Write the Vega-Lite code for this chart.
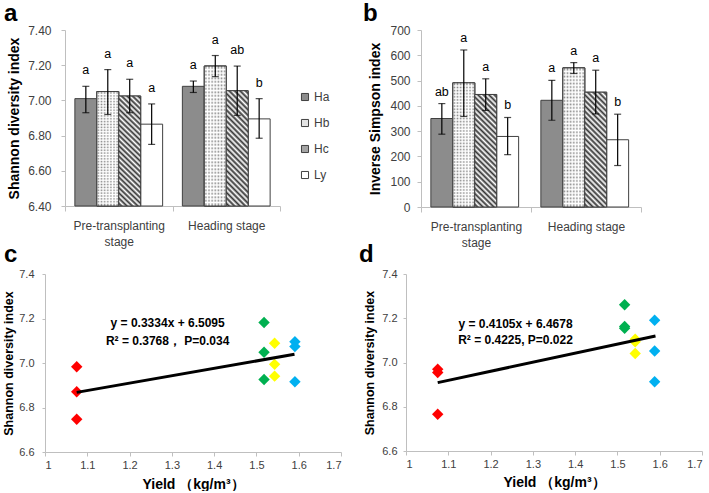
{
  "$schema": "https://vega.github.io/schema/vega-lite/v6.json",
  "background": "white",
  "padding": {"left": 2, "top": 2, "right": 0, "bottom": 0},
  "autosize": {"type": "pad"},
  "config": {
    "font": "Liberation Sans",
    "view": {"stroke": null},
    "axis": {"grid": false, "domainColor": "#bfbfbf", "tickColor": "#bfbfbf", "labelColor": "#404040", "titleColor": "#000000", "labelOverlap": false}
  },
  "datasets": {
    "barA": [
      {"stage": "Pre-transplanting stage", "group": "Ha", "value": 7.01, "lo": 6.93, "hi": 7.08, "sig": "a"},
      {"stage": "Pre-transplanting stage", "group": "Hb", "value": 7.05, "lo": 6.92, "hi": 7.175, "sig": "a"},
      {"stage": "Pre-transplanting stage", "group": "Hc", "value": 7.025, "lo": 6.93, "hi": 7.12, "sig": "a"},
      {"stage": "Pre-transplanting stage", "group": "Ly", "value": 6.865, "lo": 6.75, "hi": 6.98, "sig": "a"},
      {"stage": "Heading stage", "group": "Ha", "value": 7.08, "lo": 7.045, "hi": 7.11, "sig": "a"},
      {"stage": "Heading stage", "group": "Hb", "value": 7.195, "lo": 7.135, "hi": 7.255, "sig": "a"},
      {"stage": "Heading stage", "group": "Hc", "value": 7.055, "lo": 6.915, "hi": 7.195, "sig": "ab"},
      {"stage": "Heading stage", "group": "Ly", "value": 6.895, "lo": 6.785, "hi": 7.01, "sig": "b"}
    ],
    "barB": [
      {"stage": "Pre-transplanting stage", "group": "Ha", "value": 350, "lo": 288, "hi": 409, "sig": "ab"},
      {"stage": "Pre-transplanting stage", "group": "Hb", "value": 491, "lo": 358, "hi": 621, "sig": "a"},
      {"stage": "Pre-transplanting stage", "group": "Hc", "value": 445, "lo": 382, "hi": 507, "sig": "a"},
      {"stage": "Pre-transplanting stage", "group": "Ly", "value": 279, "lo": 207, "hi": 354, "sig": "b"},
      {"stage": "Heading stage", "group": "Ha", "value": 422, "lo": 343, "hi": 501, "sig": "a"},
      {"stage": "Heading stage", "group": "Hb", "value": 550, "lo": 528, "hi": 571, "sig": "a"},
      {"stage": "Heading stage", "group": "Hc", "value": 454, "lo": 368, "hi": 541, "sig": "a"},
      {"stage": "Heading stage", "group": "Ly", "value": 266, "lo": 164, "hi": 367, "sig": "b"}
    ],
    "scatC": [
      {"group": "Ly", "yield": 1.075, "shannon": 6.983},
      {"group": "Ly", "yield": 1.075, "shannon": 6.871},
      {"group": "Ly", "yield": 1.075, "shannon": 6.747},
      {"group": "Hb", "yield": 1.518, "shannon": 7.182},
      {"group": "Hb", "yield": 1.518, "shannon": 7.048},
      {"group": "Hb", "yield": 1.518, "shannon": 6.926},
      {"group": "Ha", "yield": 1.543, "shannon": 7.089},
      {"group": "Ha", "yield": 1.543, "shannon": 6.994},
      {"group": "Ha", "yield": 1.543, "shannon": 6.941},
      {"group": "Hc", "yield": 1.591, "shannon": 7.096},
      {"group": "Hc", "yield": 1.591, "shannon": 7.074},
      {"group": "Hc", "yield": 1.591, "shannon": 6.916}
    ],
    "scatD": [
      {"group": "Ly", "yield": 1.075, "shannon": 6.970},
      {"group": "Ly", "yield": 1.075, "shannon": 6.955},
      {"group": "Ly", "yield": 1.075, "shannon": 6.766},
      {"group": "Hb", "yield": 1.517, "shannon": 7.261},
      {"group": "Hb", "yield": 1.517, "shannon": 7.163},
      {"group": "Hb", "yield": 1.517, "shannon": 7.155},
      {"group": "Ha", "yield": 1.542, "shannon": 7.105},
      {"group": "Ha", "yield": 1.542, "shannon": 7.094},
      {"group": "Ha", "yield": 1.542, "shannon": 7.041},
      {"group": "Hc", "yield": 1.588, "shannon": 7.191},
      {"group": "Hc", "yield": 1.588, "shannon": 7.052},
      {"group": "Hc", "yield": 1.588, "shannon": 6.913}
    ],
    "lineC": [{"yield": 1.075, "shannon": 6.868}, {"yield": 1.59, "shannon": 7.039}],
    "lineD": [{"yield": 1.075, "shannon": 6.909}, {"yield": 1.59, "shannon": 7.120}],
    "textC": [
      {"yield": 1.29, "shannon": 7.18, "label": "y = 0.3334x + 6.5095"},
      {"yield": 1.29, "shannon": 7.099, "label": "R² = 0.3768，  P=0.034"}
    ],
    "textD": [
      {"yield": 1.259, "shannon": 7.174, "label": "y = 0.4105x + 6.4678"},
      {"yield": 1.259, "shannon": 7.102, "label": "R² = 0.4225, P=0.022"}
    ]
  },
  "columns": 1,
  "align": "none",
  "spacing": {"row": -5, "column": 0},
  "concat": [
    {
      "spacing": 82,
      "hconcat": [
        {
          "width": 215,
          "height": 176,
          "title": {"text": "a", "anchor": "start", "frame": "group", "dx": -61, "fontSize": 24, "fontWeight": "bold", "color": "#000000", "offset": -2},
          "data": {"name": "barA"},
          "encoding": {
            "x": {"field": "stage", "type": "nominal", "scale": {"domain": ["Pre-transplanting stage", "Heading stage"], "paddingInner": 0, "paddingOuter": 0},
              "axis": {"title": null, "labelAngle": 0, "tickBand": "extent", "tickSize": 5, "labelPadding": 9, "labelFontSize": 12, "labelLineHeight": 16, "labelExpr": "datum.label == 'Pre-transplanting stage' ? ['Pre-transplanting', 'stage'] : datum.label"}},
            "xOffset": {"field": "group", "type": "nominal", "scale": {"domain": ["Ha", "Hb", "Hc", "Ly"], "paddingInner": 0, "paddingOuter": 0.45}}
          },
          "layer": [
            {
              "mark": {"type": "bar", "stroke": "#404040", "strokeWidth": 1},
              "encoding": {
                "y": {"field": "value", "type": "quantitative", "scale": {"domain": [6.4, 7.4], "zero": false, "nice": false},
                  "axis": {"title": "Shannon diversity index", "titleFontSize": 14, "titleFontWeight": "bold", "values": [6.4, 6.6, 6.8, 7.0, 7.2, 7.4], "tickCount": 6, "format": ".2f", "labelFontSize": 12, "labelOverlap": false, "labelSeparation": 0, "tickSize": 4, "labelPadding": 10, "titlePadding": 6}},
                "y2": {"datum": 6.4},
                "fill": {"field": "group", "type": "nominal", "scale": {"domain": ["Ha", "Hb", "Hc", "Ly"], "range": ["#8c8c8c", "#e4e4e4", "#a4a4a4", "#ffffff"]},
                  "legend": {"title": null, "orient": "none", "legendX": 234, "legendY": 61, "symbolType": "square", "symbolSize": 50, "symbolStrokeColor": "#404040", "symbolStrokeWidth": 1, "labelFontSize": 12, "labelColor": "#404040", "rowPadding": 14, "padding": 0, "labelOffset": 3}}
              }
            },
            {
              "transform": [{"filter": "datum.group === 'Hb'"}],
              "mark": {"type": "bar", "stroke": "#404040", "strokeWidth": 1, "fill": {"gradient": "linear", "x1": 0, "y1": 0, "x2": 0, "y2": 1, "stops": [{"offset":0,"color":"#fff"},{"offset":0.0125,"color":"#888"},{"offset":0.025,"color":"#fff"},{"offset":0.0375,"color":"#888"},{"offset":0.05,"color":"#fff"},{"offset":0.0625,"color":"#888"},{"offset":0.075,"color":"#fff"},{"offset":0.0875,"color":"#888"},{"offset":0.1,"color":"#fff"},{"offset":0.1125,"color":"#888"},{"offset":0.125,"color":"#fff"},{"offset":0.1375,"color":"#888"},{"offset":0.15,"color":"#fff"},{"offset":0.1625,"color":"#888"},{"offset":0.175,"color":"#fff"},{"offset":0.1875,"color":"#888"},{"offset":0.2,"color":"#fff"},{"offset":0.2125,"color":"#888"},{"offset":0.225,"color":"#fff"},{"offset":0.2375,"color":"#888"},{"offset":0.25,"color":"#fff"},{"offset":0.2625,"color":"#888"},{"offset":0.275,"color":"#fff"},{"offset":0.2875,"color":"#888"},{"offset":0.3,"color":"#fff"},{"offset":0.3125,"color":"#888"},{"offset":0.325,"color":"#fff"},{"offset":0.3375,"color":"#888"},{"offset":0.35,"color":"#fff"},{"offset":0.3625,"color":"#888"},{"offset":0.375,"color":"#fff"},{"offset":0.3875,"color":"#888"},{"offset":0.4,"color":"#fff"},{"offset":0.4125,"color":"#888"},{"offset":0.425,"color":"#fff"},{"offset":0.4375,"color":"#888"},{"offset":0.45,"color":"#fff"},{"offset":0.4625,"color":"#888"},{"offset":0.475,"color":"#fff"},{"offset":0.4875,"color":"#888"},{"offset":0.5,"color":"#fff"},{"offset":0.5125,"color":"#888"},{"offset":0.525,"color":"#fff"},{"offset":0.5375,"color":"#888"},{"offset":0.55,"color":"#fff"},{"offset":0.5625,"color":"#888"},{"offset":0.575,"color":"#fff"},{"offset":0.5875,"color":"#888"},{"offset":0.6,"color":"#fff"},{"offset":0.6125,"color":"#888"},{"offset":0.625,"color":"#fff"},{"offset":0.6375,"color":"#888"},{"offset":0.65,"color":"#fff"},{"offset":0.6625,"color":"#888"},{"offset":0.675,"color":"#fff"},{"offset":0.6875,"color":"#888"},{"offset":0.7,"color":"#fff"},{"offset":0.7125,"color":"#888"},{"offset":0.725,"color":"#fff"},{"offset":0.7375,"color":"#888"},{"offset":0.75,"color":"#fff"},{"offset":0.7625,"color":"#888"},{"offset":0.775,"color":"#fff"},{"offset":0.7875,"color":"#888"},{"offset":0.8,"color":"#fff"},{"offset":0.8125,"color":"#888"},{"offset":0.825,"color":"#fff"},{"offset":0.8375,"color":"#888"},{"offset":0.85,"color":"#fff"},{"offset":0.8625,"color":"#888"},{"offset":0.875,"color":"#fff"},{"offset":0.8875,"color":"#888"},{"offset":0.9,"color":"#fff"},{"offset":0.9125,"color":"#888"},{"offset":0.925,"color":"#fff"},{"offset":0.9375,"color":"#888"},{"offset":0.95,"color":"#fff"},{"offset":0.9625,"color":"#888"},{"offset":0.975,"color":"#fff"},{"offset":0.9875,"color":"#888"},{"offset":1,"color":"#fff"}]}},
              "encoding": {"y": {"field": "value", "type": "quantitative", "axis": {"title": "Shannon diversity index", "titleFontSize": 14, "titleFontWeight": "bold", "values": [6.4, 6.6, 6.8, 7.0, 7.2, 7.4], "tickCount": 6, "format": ".2f", "labelFontSize": 12, "labelOverlap": false, "labelSeparation": 0, "tickSize": 4, "labelPadding": 10, "titlePadding": 6}}, "y2": {"datum": 6.4}}
            },
            {
              "transform": [{"filter": "datum.group === 'Hb'"}],
              "mark": {"type": "bar", "stroke": "#404040", "strokeWidth": 1, "fill": {"gradient": "linear", "x1": 0, "y1": 0, "x2": 1, "y2": 0, "stops": [{"offset":0,"color":"rgba(255,255,255,1)"},{"offset":0.0714,"color":"rgba(255,255,255,0)"},{"offset":0.1429,"color":"rgba(255,255,255,1)"},{"offset":0.2143,"color":"rgba(255,255,255,0)"},{"offset":0.2857,"color":"rgba(255,255,255,1)"},{"offset":0.3571,"color":"rgba(255,255,255,0)"},{"offset":0.4286,"color":"rgba(255,255,255,1)"},{"offset":0.5,"color":"rgba(255,255,255,0)"},{"offset":0.5714,"color":"rgba(255,255,255,1)"},{"offset":0.6429,"color":"rgba(255,255,255,0)"},{"offset":0.7143,"color":"rgba(255,255,255,1)"},{"offset":0.7857,"color":"rgba(255,255,255,0)"},{"offset":0.8571,"color":"rgba(255,255,255,1)"},{"offset":0.9286,"color":"rgba(255,255,255,0)"},{"offset":1,"color":"rgba(255,255,255,1)"}]}},
              "encoding": {"y": {"field": "value", "type": "quantitative", "axis": {"title": "Shannon diversity index", "titleFontSize": 14, "titleFontWeight": "bold", "values": [6.4, 6.6, 6.8, 7.0, 7.2, 7.4], "tickCount": 6, "format": ".2f", "labelFontSize": 12, "labelOverlap": false, "labelSeparation": 0, "tickSize": 4, "labelPadding": 10, "titlePadding": 6}}, "y2": {"datum": 6.4}}
            },
            {
              "transform": [{"filter": "datum.group === 'Hc'"}],
              "mark": {"type": "bar", "stroke": "#404040", "strokeWidth": 1, "fill": {"gradient": "linear", "x1": 0, "y1": 1, "x2": 0.2207, "y2": -0.1496, "stops": [{"offset":0,"color":"#fff"},{"offset":0.02,"color":"#333"},{"offset":0.04,"color":"#fff"},{"offset":0.06,"color":"#333"},{"offset":0.08,"color":"#fff"},{"offset":0.1,"color":"#333"},{"offset":0.12,"color":"#fff"},{"offset":0.14,"color":"#333"},{"offset":0.16,"color":"#fff"},{"offset":0.18,"color":"#333"},{"offset":0.2,"color":"#fff"},{"offset":0.22,"color":"#333"},{"offset":0.24,"color":"#fff"},{"offset":0.26,"color":"#333"},{"offset":0.28,"color":"#fff"},{"offset":0.3,"color":"#333"},{"offset":0.32,"color":"#fff"},{"offset":0.34,"color":"#333"},{"offset":0.36,"color":"#fff"},{"offset":0.38,"color":"#333"},{"offset":0.4,"color":"#fff"},{"offset":0.42,"color":"#333"},{"offset":0.44,"color":"#fff"},{"offset":0.46,"color":"#333"},{"offset":0.48,"color":"#fff"},{"offset":0.5,"color":"#333"},{"offset":0.52,"color":"#fff"},{"offset":0.54,"color":"#333"},{"offset":0.56,"color":"#fff"},{"offset":0.58,"color":"#333"},{"offset":0.6,"color":"#fff"},{"offset":0.62,"color":"#333"},{"offset":0.64,"color":"#fff"},{"offset":0.66,"color":"#333"},{"offset":0.68,"color":"#fff"},{"offset":0.7,"color":"#333"},{"offset":0.72,"color":"#fff"},{"offset":0.74,"color":"#333"},{"offset":0.76,"color":"#fff"},{"offset":0.78,"color":"#333"},{"offset":0.8,"color":"#fff"},{"offset":0.82,"color":"#333"},{"offset":0.84,"color":"#fff"},{"offset":0.86,"color":"#333"},{"offset":0.88,"color":"#fff"},{"offset":0.9,"color":"#333"},{"offset":0.92,"color":"#fff"},{"offset":0.94,"color":"#333"},{"offset":0.96,"color":"#fff"},{"offset":0.98,"color":"#333"},{"offset":1,"color":"#fff"}]}},
              "encoding": {"y": {"field": "value", "type": "quantitative", "axis": {"title": "Shannon diversity index", "titleFontSize": 14, "titleFontWeight": "bold", "values": [6.4, 6.6, 6.8, 7.0, 7.2, 7.4], "tickCount": 6, "format": ".2f", "labelFontSize": 12, "labelOverlap": false, "labelSeparation": 0, "tickSize": 4, "labelPadding": 10, "titlePadding": 6}}, "y2": {"datum": 6.4}}
            },
            {
              "mark": {"type": "rule", "color": "#000000", "strokeWidth": 1.2},
              "encoding": {"y": {"field": "lo", "type": "quantitative", "axis": {"title": "Shannon diversity index", "titleFontSize": 14, "titleFontWeight": "bold", "values": [6.4, 6.6, 6.8, 7.0, 7.2, 7.4], "tickCount": 6, "format": ".2f", "labelFontSize": 12, "labelOverlap": false, "labelSeparation": 0, "tickSize": 4, "labelPadding": 10, "titlePadding": 6}}, "y2": {"field": "hi"}}
            },
            {
              "mark": {"type": "tick", "color": "#000000", "thickness": 1.2, "size": 7},
              "encoding": {"y": {"field": "lo", "type": "quantitative", "axis": {"title": "Shannon diversity index", "titleFontSize": 14, "titleFontWeight": "bold", "values": [6.4, 6.6, 6.8, 7.0, 7.2, 7.4], "tickCount": 6, "format": ".2f", "labelFontSize": 12, "labelOverlap": false, "labelSeparation": 0, "tickSize": 4, "labelPadding": 10, "titlePadding": 6}}}
            },
            {
              "mark": {"type": "tick", "color": "#000000", "thickness": 1.2, "size": 7},
              "encoding": {"y": {"field": "hi", "type": "quantitative", "axis": {"title": "Shannon diversity index", "titleFontSize": 14, "titleFontWeight": "bold", "values": [6.4, 6.6, 6.8, 7.0, 7.2, 7.4], "tickCount": 6, "format": ".2f", "labelFontSize": 12, "labelOverlap": false, "labelSeparation": 0, "tickSize": 4, "labelPadding": 10, "titlePadding": 6}}}
            },
            {
              "mark": {"type": "text", "baseline": "alphabetic", "dy": -12, "fontSize": 12.5, "color": "#000000"},
              "encoding": {"y": {"field": "hi", "type": "quantitative", "axis": {"title": "Shannon diversity index", "titleFontSize": 14, "titleFontWeight": "bold", "values": [6.4, 6.6, 6.8, 7.0, 7.2, 7.4], "tickCount": 6, "format": ".2f", "labelFontSize": 12, "labelOverlap": false, "labelSeparation": 0, "tickSize": 4, "labelPadding": 10, "titlePadding": 6}}, "text": {"field": "sig"}}
            }
          ]
        },
        {
          "width": 220,
          "height": 177,
          "title": {"text": "b", "anchor": "start", "frame": "group", "dx": -58, "fontSize": 24, "fontWeight": "bold", "color": "#000000", "offset": -2},
          "data": {"name": "barB"},
          "encoding": {
            "x": {"field": "stage", "type": "nominal", "scale": {"domain": ["Pre-transplanting stage", "Heading stage"], "paddingInner": 0, "paddingOuter": 0},
              "axis": {"title": null, "labelAngle": 0, "tickBand": "extent", "tickSize": 5, "labelPadding": 9, "labelFontSize": 12, "labelLineHeight": 16, "labelExpr": "datum.label == 'Pre-transplanting stage' ? ['Pre-transplanting', 'stage'] : datum.label"}},
            "xOffset": {"field": "group", "type": "nominal", "scale": {"domain": ["Ha", "Hb", "Hc", "Ly"], "paddingInner": 0, "paddingOuter": 0.5}}
          },
          "layer": [
            {
              "mark": {"type": "bar", "stroke": "#404040", "strokeWidth": 1},
              "encoding": {
                "y": {"field": "value", "type": "quantitative", "scale": {"domain": [0, 700], "nice": false},
                  "axis": {"title": "Inverse Simpson index", "titleFontSize": 14, "titleFontWeight": "bold", "values": [0, 100, 200, 300, 400, 500, 600, 700], "tickCount": 8, "format": "d", "labelFontSize": 12, "labelOverlap": false, "labelSeparation": 0, "tickSize": 4, "labelPadding": 7, "titlePadding": 7}},
                "y2": {"datum": 0},
                "fill": {"field": "group", "type": "nominal", "scale": {"domain": ["Ha", "Hb", "Hc", "Ly"], "range": ["#8c8c8c", "#e4e4e4", "#a4a4a4", "#ffffff"]},
                  "legend": {"title": null, "orient": "none", "legendX": 241, "legendY": 62, "symbolType": "square", "symbolSize": 50, "symbolStrokeColor": "#404040", "symbolStrokeWidth": 1, "labelFontSize": 12, "labelColor": "#404040", "rowPadding": 14, "padding": 0, "labelOffset": 3}}
              }
            },
            {
              "transform": [{"filter": "datum.group === 'Hb'"}],
              "mark": {"type": "bar", "stroke": "#404040", "strokeWidth": 1, "fill": {"gradient": "linear", "x1": 0, "y1": 0, "x2": 0, "y2": 1, "stops": [{"offset":0,"color":"#fff"},{"offset":0.0125,"color":"#888"},{"offset":0.025,"color":"#fff"},{"offset":0.0375,"color":"#888"},{"offset":0.05,"color":"#fff"},{"offset":0.0625,"color":"#888"},{"offset":0.075,"color":"#fff"},{"offset":0.0875,"color":"#888"},{"offset":0.1,"color":"#fff"},{"offset":0.1125,"color":"#888"},{"offset":0.125,"color":"#fff"},{"offset":0.1375,"color":"#888"},{"offset":0.15,"color":"#fff"},{"offset":0.1625,"color":"#888"},{"offset":0.175,"color":"#fff"},{"offset":0.1875,"color":"#888"},{"offset":0.2,"color":"#fff"},{"offset":0.2125,"color":"#888"},{"offset":0.225,"color":"#fff"},{"offset":0.2375,"color":"#888"},{"offset":0.25,"color":"#fff"},{"offset":0.2625,"color":"#888"},{"offset":0.275,"color":"#fff"},{"offset":0.2875,"color":"#888"},{"offset":0.3,"color":"#fff"},{"offset":0.3125,"color":"#888"},{"offset":0.325,"color":"#fff"},{"offset":0.3375,"color":"#888"},{"offset":0.35,"color":"#fff"},{"offset":0.3625,"color":"#888"},{"offset":0.375,"color":"#fff"},{"offset":0.3875,"color":"#888"},{"offset":0.4,"color":"#fff"},{"offset":0.4125,"color":"#888"},{"offset":0.425,"color":"#fff"},{"offset":0.4375,"color":"#888"},{"offset":0.45,"color":"#fff"},{"offset":0.4625,"color":"#888"},{"offset":0.475,"color":"#fff"},{"offset":0.4875,"color":"#888"},{"offset":0.5,"color":"#fff"},{"offset":0.5125,"color":"#888"},{"offset":0.525,"color":"#fff"},{"offset":0.5375,"color":"#888"},{"offset":0.55,"color":"#fff"},{"offset":0.5625,"color":"#888"},{"offset":0.575,"color":"#fff"},{"offset":0.5875,"color":"#888"},{"offset":0.6,"color":"#fff"},{"offset":0.6125,"color":"#888"},{"offset":0.625,"color":"#fff"},{"offset":0.6375,"color":"#888"},{"offset":0.65,"color":"#fff"},{"offset":0.6625,"color":"#888"},{"offset":0.675,"color":"#fff"},{"offset":0.6875,"color":"#888"},{"offset":0.7,"color":"#fff"},{"offset":0.7125,"color":"#888"},{"offset":0.725,"color":"#fff"},{"offset":0.7375,"color":"#888"},{"offset":0.75,"color":"#fff"},{"offset":0.7625,"color":"#888"},{"offset":0.775,"color":"#fff"},{"offset":0.7875,"color":"#888"},{"offset":0.8,"color":"#fff"},{"offset":0.8125,"color":"#888"},{"offset":0.825,"color":"#fff"},{"offset":0.8375,"color":"#888"},{"offset":0.85,"color":"#fff"},{"offset":0.8625,"color":"#888"},{"offset":0.875,"color":"#fff"},{"offset":0.8875,"color":"#888"},{"offset":0.9,"color":"#fff"},{"offset":0.9125,"color":"#888"},{"offset":0.925,"color":"#fff"},{"offset":0.9375,"color":"#888"},{"offset":0.95,"color":"#fff"},{"offset":0.9625,"color":"#888"},{"offset":0.975,"color":"#fff"},{"offset":0.9875,"color":"#888"},{"offset":1,"color":"#fff"}]}},
              "encoding": {"y": {"field": "value", "type": "quantitative", "axis": {"title": "Inverse Simpson index", "titleFontSize": 14, "titleFontWeight": "bold", "values": [0, 100, 200, 300, 400, 500, 600, 700], "tickCount": 8, "format": "d", "labelFontSize": 12, "labelOverlap": false, "labelSeparation": 0, "tickSize": 4, "labelPadding": 7, "titlePadding": 7}}, "y2": {"datum": 0}}
            },
            {
              "transform": [{"filter": "datum.group === 'Hb'"}],
              "mark": {"type": "bar", "stroke": "#404040", "strokeWidth": 1, "fill": {"gradient": "linear", "x1": 0, "y1": 0, "x2": 1, "y2": 0, "stops": [{"offset":0,"color":"rgba(255,255,255,1)"},{"offset":0.0714,"color":"rgba(255,255,255,0)"},{"offset":0.1429,"color":"rgba(255,255,255,1)"},{"offset":0.2143,"color":"rgba(255,255,255,0)"},{"offset":0.2857,"color":"rgba(255,255,255,1)"},{"offset":0.3571,"color":"rgba(255,255,255,0)"},{"offset":0.4286,"color":"rgba(255,255,255,1)"},{"offset":0.5,"color":"rgba(255,255,255,0)"},{"offset":0.5714,"color":"rgba(255,255,255,1)"},{"offset":0.6429,"color":"rgba(255,255,255,0)"},{"offset":0.7143,"color":"rgba(255,255,255,1)"},{"offset":0.7857,"color":"rgba(255,255,255,0)"},{"offset":0.8571,"color":"rgba(255,255,255,1)"},{"offset":0.9286,"color":"rgba(255,255,255,0)"},{"offset":1,"color":"rgba(255,255,255,1)"}]}},
              "encoding": {"y": {"field": "value", "type": "quantitative", "axis": {"title": "Inverse Simpson index", "titleFontSize": 14, "titleFontWeight": "bold", "values": [0, 100, 200, 300, 400, 500, 600, 700], "tickCount": 8, "format": "d", "labelFontSize": 12, "labelOverlap": false, "labelSeparation": 0, "tickSize": 4, "labelPadding": 7, "titlePadding": 7}}, "y2": {"datum": 0}}
            },
            {
              "transform": [{"filter": "datum.group === 'Hc'"}],
              "mark": {"type": "bar", "stroke": "#404040", "strokeWidth": 1, "fill": {"gradient": "linear", "x1": 0, "y1": 1, "x2": 0.2207, "y2": -0.1496, "stops": [{"offset":0,"color":"#fff"},{"offset":0.02,"color":"#333"},{"offset":0.04,"color":"#fff"},{"offset":0.06,"color":"#333"},{"offset":0.08,"color":"#fff"},{"offset":0.1,"color":"#333"},{"offset":0.12,"color":"#fff"},{"offset":0.14,"color":"#333"},{"offset":0.16,"color":"#fff"},{"offset":0.18,"color":"#333"},{"offset":0.2,"color":"#fff"},{"offset":0.22,"color":"#333"},{"offset":0.24,"color":"#fff"},{"offset":0.26,"color":"#333"},{"offset":0.28,"color":"#fff"},{"offset":0.3,"color":"#333"},{"offset":0.32,"color":"#fff"},{"offset":0.34,"color":"#333"},{"offset":0.36,"color":"#fff"},{"offset":0.38,"color":"#333"},{"offset":0.4,"color":"#fff"},{"offset":0.42,"color":"#333"},{"offset":0.44,"color":"#fff"},{"offset":0.46,"color":"#333"},{"offset":0.48,"color":"#fff"},{"offset":0.5,"color":"#333"},{"offset":0.52,"color":"#fff"},{"offset":0.54,"color":"#333"},{"offset":0.56,"color":"#fff"},{"offset":0.58,"color":"#333"},{"offset":0.6,"color":"#fff"},{"offset":0.62,"color":"#333"},{"offset":0.64,"color":"#fff"},{"offset":0.66,"color":"#333"},{"offset":0.68,"color":"#fff"},{"offset":0.7,"color":"#333"},{"offset":0.72,"color":"#fff"},{"offset":0.74,"color":"#333"},{"offset":0.76,"color":"#fff"},{"offset":0.78,"color":"#333"},{"offset":0.8,"color":"#fff"},{"offset":0.82,"color":"#333"},{"offset":0.84,"color":"#fff"},{"offset":0.86,"color":"#333"},{"offset":0.88,"color":"#fff"},{"offset":0.9,"color":"#333"},{"offset":0.92,"color":"#fff"},{"offset":0.94,"color":"#333"},{"offset":0.96,"color":"#fff"},{"offset":0.98,"color":"#333"},{"offset":1,"color":"#fff"}]}},
              "encoding": {"y": {"field": "value", "type": "quantitative", "axis": {"title": "Inverse Simpson index", "titleFontSize": 14, "titleFontWeight": "bold", "values": [0, 100, 200, 300, 400, 500, 600, 700], "tickCount": 8, "format": "d", "labelFontSize": 12, "labelOverlap": false, "labelSeparation": 0, "tickSize": 4, "labelPadding": 7, "titlePadding": 7}}, "y2": {"datum": 0}}
            },
            {
              "mark": {"type": "rule", "color": "#000000", "strokeWidth": 1.2},
              "encoding": {"y": {"field": "lo", "type": "quantitative", "axis": {"title": "Inverse Simpson index", "titleFontSize": 14, "titleFontWeight": "bold", "values": [0, 100, 200, 300, 400, 500, 600, 700], "tickCount": 8, "format": "d", "labelFontSize": 12, "labelOverlap": false, "labelSeparation": 0, "tickSize": 4, "labelPadding": 7, "titlePadding": 7}}, "y2": {"field": "hi"}}
            },
            {
              "mark": {"type": "tick", "color": "#000000", "thickness": 1.2, "size": 7},
              "encoding": {"y": {"field": "lo", "type": "quantitative", "axis": {"title": "Inverse Simpson index", "titleFontSize": 14, "titleFontWeight": "bold", "values": [0, 100, 200, 300, 400, 500, 600, 700], "tickCount": 8, "format": "d", "labelFontSize": 12, "labelOverlap": false, "labelSeparation": 0, "tickSize": 4, "labelPadding": 7, "titlePadding": 7}}}
            },
            {
              "mark": {"type": "tick", "color": "#000000", "thickness": 1.2, "size": 7},
              "encoding": {"y": {"field": "hi", "type": "quantitative", "axis": {"title": "Inverse Simpson index", "titleFontSize": 14, "titleFontWeight": "bold", "values": [0, 100, 200, 300, 400, 500, 600, 700], "tickCount": 8, "format": "d", "labelFontSize": 12, "labelOverlap": false, "labelSeparation": 0, "tickSize": 4, "labelPadding": 7, "titlePadding": 7}}}
            },
            {
              "mark": {"type": "text", "baseline": "alphabetic", "dy": -8, "fontSize": 12.5, "color": "#000000"},
              "encoding": {"y": {"field": "hi", "type": "quantitative", "axis": {"title": "Inverse Simpson index", "titleFontSize": 14, "titleFontWeight": "bold", "values": [0, 100, 200, 300, 400, 500, 600, 700], "tickCount": 8, "format": "d", "labelFontSize": 12, "labelOverlap": false, "labelSeparation": 0, "tickSize": 4, "labelPadding": 7, "titlePadding": 7}}, "text": {"field": "sig"}}
            }
          ]
        }
      ]
    },
    {
      "spacing": -2,
      "hconcat": [
        {
          "width": 276,
          "height": 178,
          "title": {"text": "c", "anchor": "start", "frame": "group", "dx": -61, "fontSize": 24, "fontWeight": "bold", "color": "#000000", "offset": 1},
          "layer": [
            {
              "data": {"name": "scatC"},
              "mark": {"type": "point", "shape": "diamond", "filled": true, "size": 130, "opacity": 1},
              "encoding": {
                "x": {"field": "yield", "type": "quantitative", "scale": {"domain": [1, 1.7], "range": [-20, 276], "nice": false, "zero": false},
                  "axis": {"title": "Yield （kg/m³）", "titleFontSize": 14, "titleFontWeight": "bold", "values": [1, 1.1, 1.2, 1.3, 1.4, 1.5, 1.6, 1.7], "labelExpr": "format(datum.value, '~g')", "labelFontSize": 11, "labelOverlap": false, "tickSize": 4, "labelPadding": 3, "titlePadding": 7}},
                "y": {"field": "shannon", "type": "quantitative", "scale": {"domain": [6.6, 7.4], "nice": false, "zero": false},
                  "axis": {"offset": 20, "title": "Shannon diversity index", "titleFontSize": 12.5, "titleFontWeight": "bold", "values": [6.6, 6.8, 7.0, 7.2, 7.4], "format": ".1f", "labelFontSize": 11, "labelOverlap": false, "tickSize": 3, "labelPadding": 8, "titlePadding": 3}},
                "color": {"field": "group", "type": "nominal", "scale": {"domain": ["Ha", "Hb", "Hc", "Ly"], "range": ["#ffff00", "#00b050", "#00b0f0", "#ff0000"]}, "legend": null}
              }
            },
            {
              "data": {"name": "lineC"},
              "mark": {"type": "line", "color": "#000000", "strokeWidth": 3},
              "encoding": {
                "x": {"field": "yield", "type": "quantitative", "axis": {"title": "Yield （kg/m³）", "titleFontSize": 14, "titleFontWeight": "bold", "values": [1, 1.1, 1.2, 1.3, 1.4, 1.5, 1.6, 1.7], "labelExpr": "format(datum.value, '~g')", "labelFontSize": 11, "labelOverlap": false, "tickSize": 4, "labelPadding": 3, "titlePadding": 7}},
                "y": {"field": "shannon", "type": "quantitative", "axis": {"offset": 20, "title": "Shannon diversity index", "titleFontSize": 12.5, "titleFontWeight": "bold", "values": [6.6, 6.8, 7.0, 7.2, 7.4], "format": ".1f", "labelFontSize": 11, "labelOverlap": false, "tickSize": 3, "labelPadding": 8, "titlePadding": 3}}
              }
            },
            {
              "data": {"name": "textC"},
              "mark": {"type": "text", "fontSize": 12, "fontWeight": "bold", "align": "center", "baseline": "middle", "color": "#000000"},
              "encoding": {
                "x": {"field": "yield", "type": "quantitative", "axis": {"title": "Yield （kg/m³）", "titleFontSize": 14, "titleFontWeight": "bold", "values": [1, 1.1, 1.2, 1.3, 1.4, 1.5, 1.6, 1.7], "labelExpr": "format(datum.value, '~g')", "labelFontSize": 11, "labelOverlap": false, "tickSize": 4, "labelPadding": 3, "titlePadding": 7}},
                "y": {"field": "shannon", "type": "quantitative", "axis": {"offset": 20, "title": "Shannon diversity index", "titleFontSize": 12.5, "titleFontWeight": "bold", "values": [6.6, 6.8, 7.0, 7.2, 7.4], "format": ".1f", "labelFontSize": 11, "labelOverlap": false, "tickSize": 3, "labelPadding": 8, "titlePadding": 3}},
                "text": {"field": "label"}
              }
            }
          ]
        },
        {
          "width": 296,
          "height": 177,
          "title": {"text": "d", "anchor": "start", "frame": "group", "dx": -47, "fontSize": 24, "fontWeight": "bold", "color": "#000000", "offset": 1},
          "layer": [
            {
              "data": {"name": "scatD"},
              "mark": {"type": "point", "shape": "diamond", "filled": true, "size": 130, "opacity": 1},
              "encoding": {
                "x": {"field": "yield", "type": "quantitative", "scale": {"domain": [1, 1.7], "nice": false, "zero": false},
                  "axis": {"title": "Yield （kg/m³）", "titleFontSize": 14, "titleFontWeight": "bold", "values": [1, 1.1, 1.2, 1.3, 1.4, 1.5, 1.6, 1.7], "labelExpr": "format(datum.value, '~g')", "labelFontSize": 11, "labelOverlap": false, "tickSize": 4, "labelPadding": 3, "titlePadding": 6}},
                "y": {"field": "shannon", "type": "quantitative", "scale": {"domain": [6.6, 7.4], "nice": false, "zero": false},
                  "axis": {"title": "Shannon diversity index", "titleFontSize": 12.5, "titleFontWeight": "bold", "values": [6.6, 6.8, 7.0, 7.2, 7.4], "format": ".1f", "labelFontSize": 11, "labelOverlap": false, "tickSize": 3, "labelPadding": 6, "titlePadding": 5}},
                "color": {"field": "group", "type": "nominal", "scale": {"domain": ["Ha", "Hb", "Hc", "Ly"], "range": ["#ffff00", "#00b050", "#00b0f0", "#ff0000"]}, "legend": null}
              }
            },
            {
              "data": {"name": "lineD"},
              "mark": {"type": "line", "color": "#000000", "strokeWidth": 3},
              "encoding": {
                "x": {"field": "yield", "type": "quantitative", "axis": {"title": "Yield （kg/m³）", "titleFontSize": 14, "titleFontWeight": "bold", "values": [1, 1.1, 1.2, 1.3, 1.4, 1.5, 1.6, 1.7], "labelExpr": "format(datum.value, '~g')", "labelFontSize": 11, "labelOverlap": false, "tickSize": 4, "labelPadding": 3, "titlePadding": 6}},
                "y": {"field": "shannon", "type": "quantitative", "axis": {"title": "Shannon diversity index", "titleFontSize": 12.5, "titleFontWeight": "bold", "values": [6.6, 6.8, 7.0, 7.2, 7.4], "format": ".1f", "labelFontSize": 11, "labelOverlap": false, "tickSize": 3, "labelPadding": 6, "titlePadding": 5}}
              }
            },
            {
              "data": {"name": "textD"},
              "mark": {"type": "text", "fontSize": 12, "fontWeight": "bold", "align": "center", "baseline": "middle", "color": "#000000"},
              "encoding": {
                "x": {"field": "yield", "type": "quantitative", "axis": {"title": "Yield （kg/m³）", "titleFontSize": 14, "titleFontWeight": "bold", "values": [1, 1.1, 1.2, 1.3, 1.4, 1.5, 1.6, 1.7], "labelExpr": "format(datum.value, '~g')", "labelFontSize": 11, "labelOverlap": false, "tickSize": 4, "labelPadding": 3, "titlePadding": 6}},
                "y": {"field": "shannon", "type": "quantitative", "axis": {"title": "Shannon diversity index", "titleFontSize": 12.5, "titleFontWeight": "bold", "values": [6.6, 6.8, 7.0, 7.2, 7.4], "format": ".1f", "labelFontSize": 11, "labelOverlap": false, "tickSize": 3, "labelPadding": 6, "titlePadding": 5}},
                "text": {"field": "label"}
              }
            }
          ]
        }
      ]
    }
  ]
}
